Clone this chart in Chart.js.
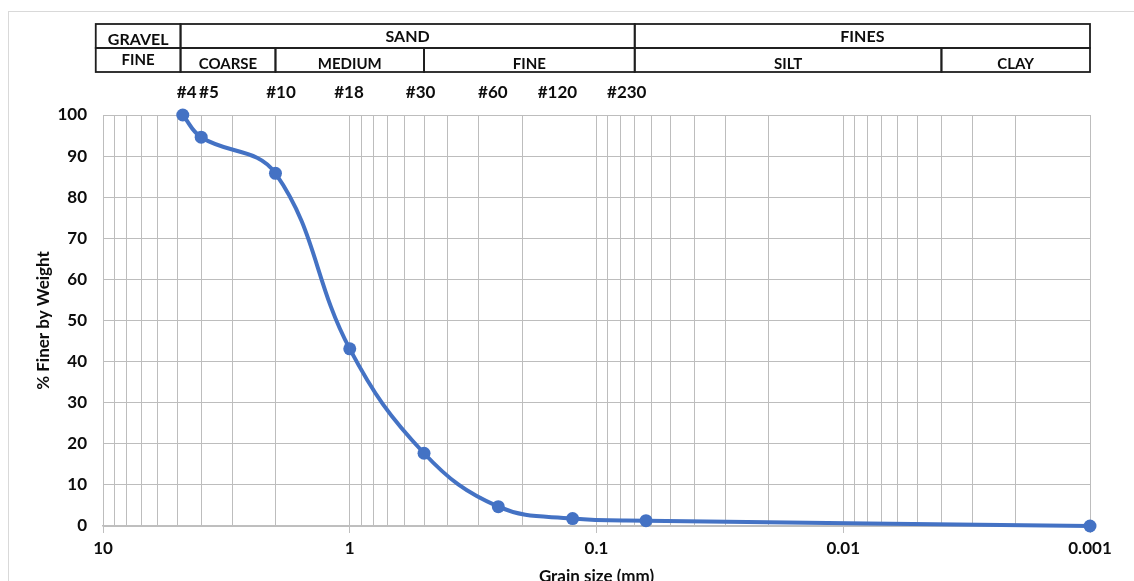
<!DOCTYPE html>
<html>
<head>
<meta charset="utf-8">
<title>Grain size distribution</title>
<script src="https://cdn.jsdelivr.net/npm/chart.js@4.4.1/dist/chart.umd.min.js"></script>
<style>
    html, body { margin: 0; padding: 0; background: #fff; }
    #box { position: relative; width: 1134px; height: 581px; }
</style>
</head>
<body>
<div id="box"><canvas id="gradation" width="1134" height="581"></canvas></div>
<script>
// sieve analysis results
var sieveNames   = ['#4', '#5', '#10', '#18', '#30', '#60', '#120', '#230'];
var grainSize    = [4.75, 4.0, 2.0, 1.0, 0.5, 0.25, 0.125, 0.063, 0.001];
var percentFiner = [100, 94.6, 85.8, 43.1, 17.7, 4.7, 1.8, 1.3, 0];

// where the sieve names sit along the size axis (mm)
var sieveLabelAt = [4.58, 3.72, 1.9, 1.007, 0.516, 0.263, 0.144, 0.0754];

// soil classification bands (mm)
var soilGroups    = ['GRAVEL', 'SAND', 'FINES'];
var soilGroupEdge = [10.7, 4.85, 0.07, 0.001];
var soilTypes     = ['FINE', 'COARSE', 'MEDIUM', 'FINE', 'SILT', 'CLAY'];
var soilTypeEdge  = [10.7, 4.85, 2.0, 0.5, 0.07, 0.004, 0.001];

var yTicks = [0, 10, 20, 30, 40, 50, 60, 70, 80, 90, 100];

var blue = '#4472C4';
var gridGrey = '#bdbdbd';
var fontFamily = 'Lato, "Open Sans", sans-serif';

function isDecade(v)
{
    var l = Math.log10(v);
    return Math.abs(l - Math.round(l)) < 1e-6;
}

// 1..9 x 10^n ticks between 0.001 and 10
function logTicks()
{
    var ticks = [];
    for (let e = -3; e <= 0; e++) {
        for (let k = 1; k <= 9; k++) {
            ticks.push({ value: Number((k * Math.pow(10, e)).toPrecision(3)) });
        }
    }
    ticks.push({ value: 10 });
    return ticks;
}

var soilTable = {
    id: 'soilTable',
    beforeDraw: function(chart) {
        const ctx = chart.ctx;
        ctx.save();
        ctx.fillStyle = '#fff';
        ctx.fillRect(0, 0, chart.width, chart.height);
        ctx.strokeStyle = '#d9d9d9';
        ctx.lineWidth = 1;
        ctx.strokeRect(8.5, 11.5, chart.width, chart.height);
        ctx.restore();
    },
    afterDraw: function(chart) {
        const ctx = chart.ctx;
        const x = chart.scales.x;
        const top = 24, mid = 48, bottom = 72;
        ctx.save();
        ctx.strokeStyle = '#1e1e1e';
        ctx.lineWidth = 1.8;
        ctx.fillStyle = '#0d0d0d';
        ctx.textAlign = 'center';
        ctx.textBaseline = 'middle';

        ctx.font = 'bold 16px ' + fontFamily;
        for (let i = 0; i < soilGroups.length; i++) {
            const x0 = x.getPixelForValue(soilGroupEdge[i]);
            const x1 = x.getPixelForValue(soilGroupEdge[i + 1]);
            ctx.strokeRect(x0, top, x1 - x0, mid - top);
            ctx.fillText(soilGroups[i], (x0 + x1) / 2, i === 0 ? 40 : 37);
        }
        ctx.font = 'bold 15px ' + fontFamily;
        for (let i = 0; i < soilTypes.length; i++) {
            const x0 = x.getPixelForValue(soilTypeEdge[i]);
            const x1 = x.getPixelForValue(soilTypeEdge[i + 1]);
            ctx.strokeRect(x0, mid, x1 - x0, bottom - mid);
            ctx.fillText(soilTypes[i], (x0 + x1) / 2, i === 0 ? 60 : 64);
        }

        // sieve numbers above the plot
        ctx.font = 'bold 17px ' + fontFamily;
        for (let i = 0; i < sieveNames.length; i++) {
            ctx.fillText(sieveNames[i], x.getPixelForValue(sieveLabelAt[i]), 93);
        }
        ctx.restore();
    }
};

var points = [];
for (let i = 0; i < grainSize.length; i++) {
    points.push({ x: grainSize[i], y: percentFiner[i] });
}

const ctx = document.getElementById('gradation').getContext('2d');
var chartId = new Chart(ctx, {
    type: 'line',
    data: {
        datasets: [{
            data: points,
            borderColor: blue,
            backgroundColor: blue,
            borderWidth: 4,
            pointRadius: 6.5,
            pointBackgroundColor: blue,
            pointBorderWidth: 0,
            tension: 0.4,
            clip: false
        }]
    },
    options: {
        responsive: false,
        animation: false,
        layout: {
            padding: { top: 115, right: 44, left: 0, bottom: 0 }
        },
        scales: {
            x: {
                type: 'logarithmic',
                reverse: true,
                min: 0.001,
                max: 10,
                afterBuildTicks: function(scale) {
                    scale.ticks = logTicks();
                },
                afterFit: function(scale) {
                    scale.height = 55;
                },
                grid: {
                    color: gridGrey,
                    lineWidth: 1,
                    tickLength: 7,
                    tickColor: function(c) {
                        return c.tick && isDecade(c.tick.value) ? '#bfbfbf' : 'rgba(0,0,0,0)';
                    }
                },
                border: { color: '#bfbfbf', width: 1.5 },
                ticks: {
                    autoSkip: false,
                    maxRotation: 0,
                    padding: 5,
                    color: '#0d0d0d',
                    font: { family: fontFamily, size: 17, weight: 'bold' },
                    callback: function(val) {
                        return isDecade(val) ? String(Number(val.toPrecision(3))) : '';
                    }
                },
                title: {
                    display: true,
                    text: 'Grain size (mm)',
                    color: '#0d0d0d',
                    padding: { top: 0, bottom: -6 },
                    font: { family: fontFamily, size: 17, weight: 'bold' }
                }
            },
            y: {
                min: 0,
                max: 100,
                afterBuildTicks: function(scale) {
                    scale.ticks = yTicks.map(function(v) { return { value: v }; });
                },
                afterFit: function(scale) {
                    scale.width = 103;
                },
                grid: {
                    color: gridGrey,
                    drawTicks: false
                },
                border: { color: gridGrey },
                ticks: {
                    padding: 16,
                    color: '#0d0d0d',
                    font: { family: fontFamily, size: 17, weight: 'bold' }
                },
                title: {
                    display: true,
                    text: '% Finer by Weight',
                    color: '#0d0d0d',
                    padding: { top: 33, bottom: 0 },
                    font: { family: fontFamily, size: 17, weight: 'bold' }
                }
            }
        },
        plugins: {
            legend: { display: false },
            tooltip: { enabled: false }
        }
    },
    plugins: [soilTable]
});
</script>
</body>
</html>
